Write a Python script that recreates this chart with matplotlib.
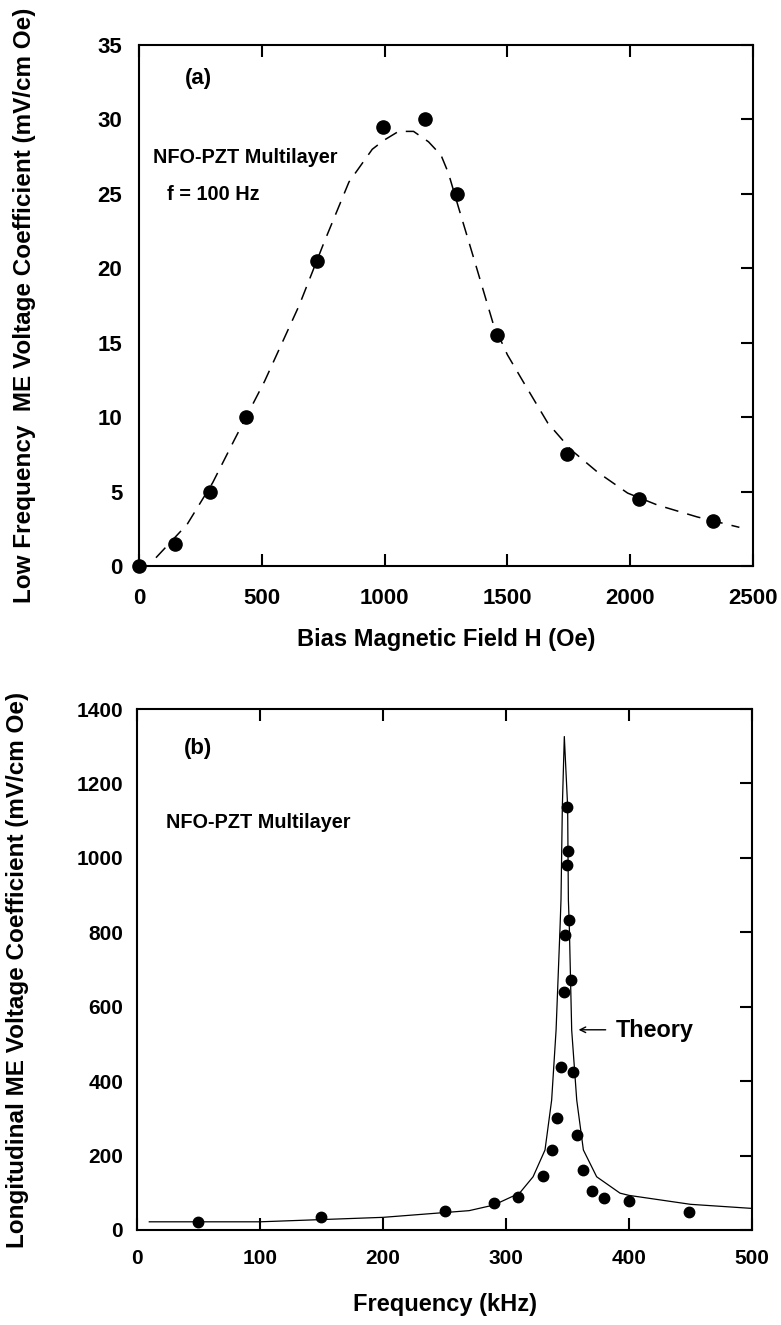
import matplotlib
matplotlib.use('Agg')
import matplotlib.pyplot as plt

plt.rcParams['font.family'] = ['Liberation Sans', 'DejaVu Sans']
plt.rcParams['font.weight'] = 'bold'

# panel (a): low frequency ME coefficient vs bias field
h_meas = [0, 148, 290, 434, 725, 995, 1165, 1295, 1457, 1744, 2036, 2336]
a_meas = [0, 1.5, 5.0, 10.0, 20.5, 29.5, 30.0, 25.0, 15.5, 7.5, 4.5, 3.0]

h_fit = [69, 196, 300, 389, 511, 652, 755, 855, 950, 997, 1057, 1118, 1179,
         1230, 1260, 1301, 1361, 1442, 1500, 1564, 1665, 1760, 1868, 1990,
         2111, 2273, 2445]
a_fit = [0.56, 2.8, 5.6, 8.5, 12.4, 17.5, 21.8, 25.8, 28.0, 28.6, 29.2, 29.2,
         28.5, 27.6, 26.4, 24.1, 20.8, 16.3, 14.2, 12.4, 9.6, 7.8, 6.3, 4.9,
         4.1, 3.3, 2.6]

# panel (b): longitudinal ME coefficient vs frequency
f_meas = [50, 150, 250, 290, 310, 330, 337.5, 341.5, 344.5, 347.3, 347.7,
          349.2, 349.7, 350.5, 351.3, 352.5, 354.5, 357.5, 362.5, 370, 380,
          400, 449]
b_meas = [22, 36, 52, 72, 88, 145, 214, 302, 439, 640, 792, 981, 1136, 1019,
          832, 671, 424, 255, 160, 104, 87, 79, 49]

f_th = [10, 100, 200, 270, 290, 311, 322, 331.7, 337.1, 340.7, 343.9, 344.7,
        345.8, 347.4, 350.1, 350.7, 351.5, 353.4, 357.5, 362.9, 373.7, 392.7,
        400, 425, 450, 500]
b_th = [22, 22, 34, 52, 67, 99, 143, 215, 349, 537, 811, 887, 1138, 1326,
        1138, 887, 811, 537, 349, 215, 143, 99, 93, 81, 69, 58]

fig = plt.figure(figsize=(7.81, 13.25), dpi=100)
ax1 = fig.add_axes([0.178, 0.5728, 0.786, 0.3932])
ax2 = fig.add_axes([0.1754, 0.0717, 0.7875, 0.3932])


def style(ax, size, xpad, ypad):
    for s in ax.spines.values():
        s.set_linewidth(1.5)
    ax.tick_params(direction='in', length=8.5, width=1.5, top=True,
                   right=True, left=False, labelsize=size)
    ax.tick_params(axis='x', pad=xpad)
    ax.tick_params(axis='y', pad=ypad)
    for lab in ax.get_xticklabels() + ax.get_yticklabels():
        lab.set_fontweight('bold')


ax1.plot(h_fit, a_fit, color='black', lw=1.1, ls=(0, (9, 6)))
ax1.plot(h_meas, a_meas, 'o', color='black', ms=9.5, clip_on=False)
ax1.set_xlim(0, 2500)
ax1.set_ylim(0, 35)
ax1.set_xticks(range(0, 2501, 500))
ax1.set_yticks(range(0, 36, 5))
style(ax1, 16, 16, 12)
ax1.set_xlabel('Bias Magnetic Field H (Oe)', fontsize=17, fontweight='bold')
ax1.xaxis.set_label_coords(0.5, -0.118)
ax1.set_ylabel('Low Frequency  ME Voltage Coefficient (mV/cm Oe)',
               fontsize=17.5, fontweight='bold')
ax1.yaxis.set_label_coords(-0.168, 0.5)
ax1.text(0.097, 0.936, '(a)', transform=ax1.transAxes, fontsize=16,
         ha='center', va='center')
ax1.text(0.022, 0.785, 'NFO-PZT Multilayer', transform=ax1.transAxes,
         fontsize=14.3, ha='left', va='center')
ax1.text(0.046, 0.714, 'f = 100 Hz', transform=ax1.transAxes,
         fontsize=14.3, ha='left', va='center')

ax2.plot(f_th, b_th, color='black', lw=0.9)
ax2.plot(f_meas, b_meas, 'o', color='black', ms=7.5)
ax2.set_xlim(0, 500)
ax2.set_ylim(0, 1400)
ax2.set_xticks(range(0, 501, 100))
ax2.set_yticks(range(0, 1401, 200))
style(ax2, 15, 14, 10)
ax2.set_xlabel('Frequency (kHz)', fontsize=17, fontweight='bold')
ax2.xaxis.set_label_coords(0.5, -0.121)
ax2.set_ylabel('Longitudinal ME Voltage Coefficient (mV/cm Oe)',
               fontsize=17.5, fontweight='bold')
ax2.yaxis.set_label_coords(-0.175, 0.5)
ax2.text(0.1, 0.925, '(b)', transform=ax2.transAxes, fontsize=16,
         ha='center', va='center')
ax2.text(0.047, 0.783, 'NFO-PZT Multilayer', transform=ax2.transAxes,
         fontsize=14.3, ha='left', va='center')
ax2.annotate('', xy=(359, 538), xytext=(381, 538),
             arrowprops=dict(arrowstyle='->', color='black', lw=1,
                             shrinkA=0, shrinkB=0))
ax2.text(389, 535, 'Theory', fontsize=16.8, ha='left', va='center')

fig.savefig('out.png', dpi=100)
